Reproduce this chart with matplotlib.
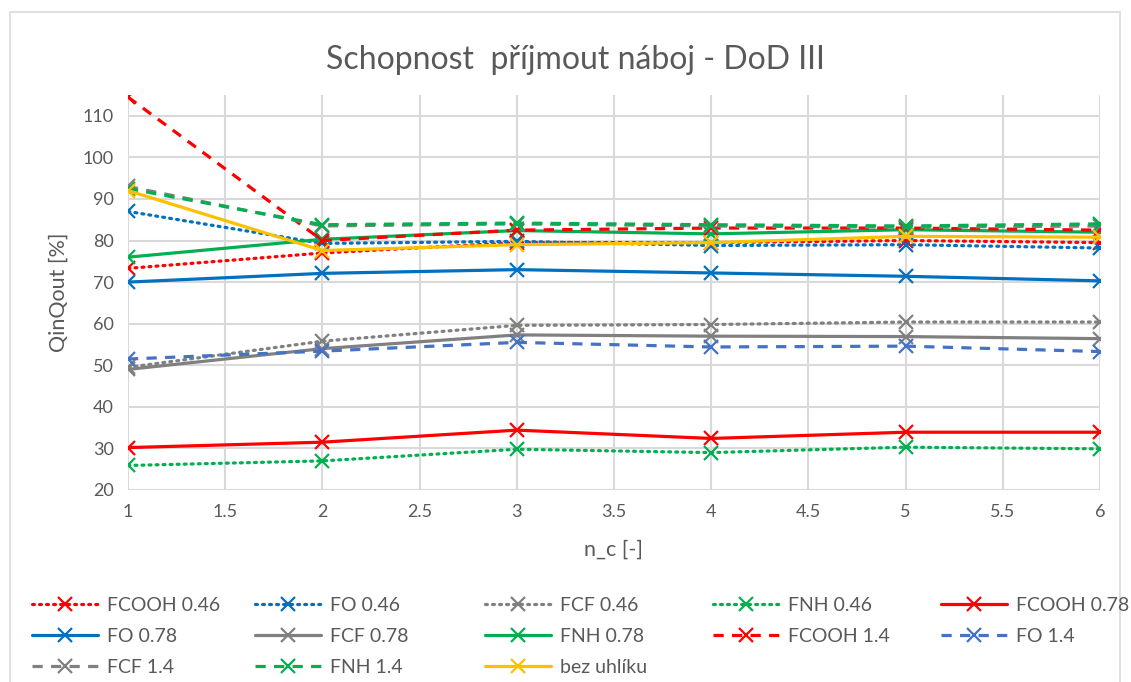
import matplotlib
matplotlib.use("Agg")
import matplotlib.pyplot as plt
from matplotlib.patches import Rectangle

n_c = [1, 2, 3, 4, 5, 6]

FCOOH_046 = [73.3, 77.0, 79.5, 79.5, 80.0, 79.5]
FO_046 = [87.0, 79.3, 79.8, 78.8, 79.0, 78.2]
FCF_046 = [49.5, 55.8, 59.6, 59.8, 60.4, 60.4]
FNH_046 = [25.9, 27.0, 29.8, 29.0, 30.3, 29.9]
FCOOH_078 = [30.2, 31.5, 34.4, 32.4, 33.9, 33.9]
FO_078 = [70.0, 72.1, 73.0, 72.2, 71.4, 70.3]
FCF_078 = [49.0, 54.0, 57.3, 57.0, 56.9, 56.4]
FNH_078 = [76.0, 80.3, 82.4, 81.6, 82.6, 82.0]
FCOOH_14 = [114.5, 80.0, 82.5, 83.0, 83.0, 82.5]
FO_14 = [51.5, 53.4, 55.5, 54.4, 54.6, 53.3]
FCF_14 = [93.0, 83.5, 84.0, 83.5, 83.2, 83.5]
FNH_14 = [92.5, 83.8, 84.2, 83.8, 83.5, 84.0]
bez_uhliku = [92.0, 77.6, 79.0, 79.5, 81.0, 80.8]

labels = ["FCOOH 0.46", "FO 0.46", "FCF 0.46", "FNH 0.46", "FCOOH 0.78",
          "FO 0.78", "FCF 0.78", "FNH 0.78", "FCOOH 1.4", "FO 1.4",
          "FCF 1.4", "FNH 1.4", "bez uhlíku"]
series = [FCOOH_046, FO_046, FCF_046, FNH_046, FCOOH_078,
          FO_078, FCF_078, FNH_078, FCOOH_14, FO_14,
          FCF_14, FNH_14, bez_uhliku]

RED, BLUE, GRAY, GREEN, YEL, LBLUE = "#FF0000", "#0070C0", "#808080", "#00B050", "#FFC000", "#4472C4"
DOT = (0, (0.6, 1.6))
DASH = (0, (3.2, 2.6))
colors = [RED, BLUE, GRAY, GREEN, RED, BLUE, GRAY, GREEN, RED, LBLUE, GRAY, GREEN, YEL]
styles = [DOT, DOT, DOT, DOT, "-", "-", "-", "-", DASH, DASH, DASH, DASH, "-"]

plt.rcParams['font.family'] = ['Lato', 'DejaVu Sans']
TXT = "#595959"

fig = plt.figure(figsize=(11.31, 6.82), dpi=100)
fig.patches.append(Rectangle((10/1131, -0.01), 1110/1131, 1 - 12/682 + 0.01,
                             transform=fig.transFigure, fill=False,
                             edgecolor="#d9d9d9", linewidth=1.2))
ax = fig.add_axes([128/1131, 1 - 490/682, 972/1131, 395/682])

handles = []
for y, c, ls, lab in zip(series, colors, styles, labels):
    capstyle = "round" if ls == DOT else "butt"
    h, = ax.plot(n_c, y, color=c, linestyle=ls, linewidth=2.3, marker="x",
                 markersize=10, markeredgewidth=1.6, label=lab,
                 dash_capstyle=capstyle, solid_capstyle="round", zorder=3)
    handles.append(h)

ax.set_xlim(1, 6)
ax.set_ylim(20, 115)
ax.set_xticks([1, 1.5, 2, 2.5, 3, 3.5, 4, 4.5, 5, 5.5, 6])
ax.set_xticklabels(["1", "1.5", "2", "2.5", "3", "3.5", "4", "4.5", "5", "5.5", "6"])
ax.set_yticks(range(20, 111, 10))
ax.grid(True, color="#d9d9d9", linewidth=1.5, zorder=0)
ax.set_axisbelow(True)
for s in ax.spines.values():
    s.set_visible(False)
ax.tick_params(length=0, labelsize=13, colors=TXT, pad=10)

fig.text(575 / 1131, 1 - 60 / 682, "Schopnost  příjmout náboj - DoD III",
         fontsize=23, color=TXT, ha="center", va="center")
ax.set_ylabel("QinQout [%]", fontsize=15.5, color=TXT, labelpad=10)
ax.set_xlabel("n_c [-]", fontsize=15.5, color=TXT, labelpad=14)

col_x = [22, 245, 475, 703, 931]
for c in range(5):
    idx = [i for i in (c, c + 5, c + 10) if i < len(handles)]
    leg = fig.legend([handles[i] for i in idx], [labels[i] for i in idx],
                     loc="upper left", bbox_to_anchor=(col_x[c] / 1131, 1 - 587 / 682),
                     frameon=False, fontsize=14, handlelength=3.4,
                     handletextpad=0.45, labelspacing=0.72, borderpad=0)
    for t in leg.get_texts():
        t.set_color(TXT)

fig.savefig("out.png", dpi=100)
